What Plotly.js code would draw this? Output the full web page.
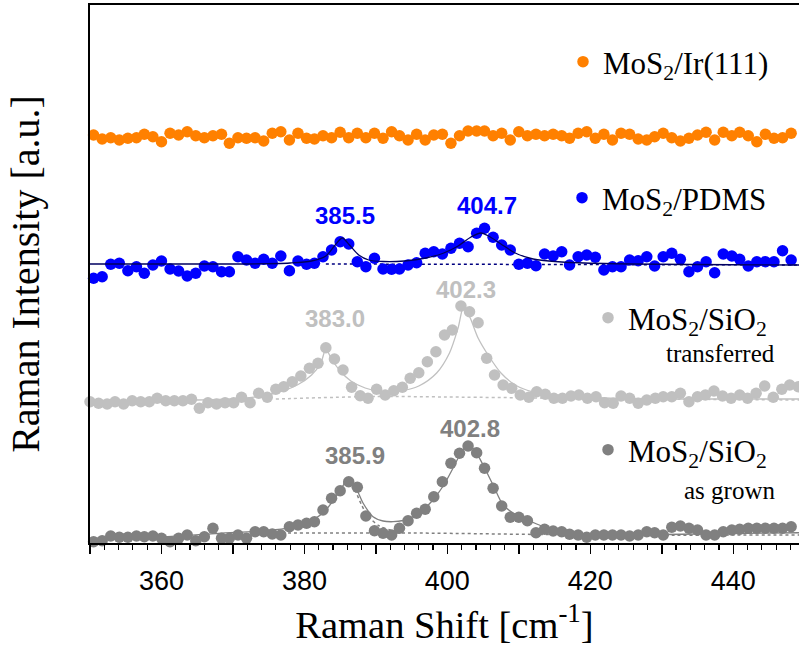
<!DOCTYPE html>
<html>
<head>
<meta charset="utf-8">
<script src="https://cdn.plot.ly/plotly-3.0.1.min.js"></script>
<style>html,body{margin:0;padding:0;background:#fff;}#chart{width:799px;height:648px;}</style>
</head>
<body>
<div id="chart"></div>
<script>
// Sampling grid (Raman shift, cm^-1)
const xA = [350.5,351.7,352.9,354.1,355.3,356.5,357.6,358.8,360.0,361.2,
  362.4,363.6,364.8,366.0,367.2,368.4,369.5,370.7,371.9,373.1,
  374.3,375.5,376.7,377.9,379.1,380.3,381.4,382.6,383.8,385.0,
  386.2,387.4,388.6,389.8,391.0,392.2,393.3,394.5,395.7,396.9,
  398.1,399.3,400.5,401.7,402.9,404.1,405.2,406.4,407.6,408.8,
  410.0,411.2,412.4,413.6,414.8,416.0,417.1,418.3,419.5,420.7,
  421.9,423.1,424.3,425.5,426.7,427.9,429.0,430.2,431.4,432.6,
  433.8,435.0,436.2,437.4,438.6,439.8,440.9,442.1,443.3,444.5,
  445.7,446.9,448.1,449.3];
const xB = [350.0,351.2,352.4,353.5,354.7,355.9,357.1,358.3,359.4,360.6,
  361.8,363.0,364.2,365.3,366.5,367.7,368.9,370.1,371.2,372.4,
  373.6,374.8,376.0,377.1,378.3,379.5,380.7,381.9,383.0,384.2,
  385.4,386.6,387.8,388.9,390.1,391.3,392.5,393.7,394.8,396.0,
  397.2,398.4,399.6,400.7,401.9,403.1,404.3,405.5,406.6,407.8,
  409.0,410.2,411.4,412.5,413.7,414.9,416.1,417.3,418.4,419.6,
  420.8,422.0,423.2,424.3,425.5,426.7,427.9,429.1,430.2,431.4,
  432.6,433.8,435.0,436.1,437.3,438.5,439.7,440.9,442.0,443.2,
  444.4,445.6,446.8,447.9,449.1];

// MoS2/Ir(111) (offset intensity, a.u.)
const irY = [408,404,405.3,403,404.7,405.3,408.7,406.3,401.3,409.7,
  408,411.3,407.3,405.3,407.3,408.7,399.7,405.3,404.7,405.3,
  402,409.7,411.3,403,409.7,404.7,404,407.3,405.3,410.7,
  405.3,409.7,405.3,409.7,404.7,411.3,407.3,403,408.7,403,
  408,408.7,399.7,407.3,412,412,412,407.3,409.7,403,
  411.3,407.3,408.7,407.3,408.7,407.3,404.7,409.7,411.3,404.7,
  408.7,403,409.7,408.7,404,403,406.3,409.7,405.3,402,
  404.7,408,410.7,403,410.7,407.3,410.7,407.3,401.3,408.7,
  404.7,405.3,409.7,407.3];

// MoS2/PDMS
const pdmsY = [264.7,266.3,278.7,279.7,272.3,276.3,269.7,278,282,274,
  272,267,269.7,277,276.3,271.3,271.3,286.3,283,279.7,
  283.7,279.7,287,272.3,282,278.7,279.7,286.3,293,301.3,
  299,281.3,276.3,284.7,274,273.7,274,278,280.3,289.7,
  291.3,289,294.7,299.7,296.3,309.7,314.7,305.7,298,293,
  278.7,279.7,277.3,289,287,291.3,278,286.3,288,285.7,
  273,276.3,276.3,283,282.3,286.3,277,286.3,289.7,283.7,
  271.3,276.3,281.3,270.3,289,287,283.7,277,281.3,281.3,
  281.3,292.3,283,283];

// MoS2/SiO2 transferred
const transY = [141.3,139.7,139,141.3,139,142.3,141.3,141.3,144.7,142.3,
  142.3,142.3,143.7,134.7,140.3,139,140.3,140.3,145.7,140.3,
  149.7,145.7,153.7,156.3,161.3,167,174.7,179.7,195.3,184,
  173,155.7,147.3,144.7,153.7,148,152.3,155.7,164.7,170.3,
  181.3,191.3,208,213,237,231.3,220.3,184.7,168,158,
  154.7,148,145.7,151.3,148.7,144.7,144.7,147,148,144.7,
  146.3,140.3,139.7,147,144.7,139.7,143,144.7,146.3,146.3,
  149.7,141.3,146.3,148,152,147,144.7,148,144.7,149.7,
  157,145.7,153.7,158,156.3];

// MoS2/SiO2 as grown
const grownY = [1.3,2.3,7,5.7,5.7,7,6.3,7,4.7,1.3,
  4.7,8,2.3,6.3,14.7,4.7,4.7,8,4.7,11.3,
  11.3,9,8,16.3,18,19.7,21.3,33,44.7,52.3,
  61.3,55.7,27,12.3,9.7,8,14.7,22.3,29.7,33.7,
  46.3,61.3,79.7,89.7,97,90.3,74.7,54.7,37,25.7,
  25.7,22.3,10.3,13.7,12,11.3,8.7,8,5.7,8,
  8,8,8,7,8,11.3,10.3,8,15.7,17,
  14.7,13,8,8,11.3,13,13.7,14.7,14.7,14.7,
  14.7,14.7,16.3,14.7];

// Lorentzian fit curves
const pdmsFitX = [350,372,378,381,383,384.3,385.3,386.3,387.6,389,391,394,397,399.5,401.5,403.3,404.7,406,407.5,409.5,412,416,422,449.5];
const pdmsFitY = [279,279,280,282,287,298,305,298,288,283,281.5,282,285,290,297,306,310,306,299,290,284,281,279.5,278];
const pdmsBaseX = [383,449.5];
const pdmsBaseY = [279,278];

const transFitX = [350,365,372,376,379,381,382.3,383,383.8,385,386.5,388.5,391,393.5,396,398.5,400.3,401.5,402.3,403.2,404.3,405.7,407.5,409.5,412,416,422,435,449.5];
const transFitY = [142,143,145,150,158,168,180,194,184,172,162,155,151,152,157,170,190,215,237,225,205,188,170,158,151,147,145,144,144];
const transBaseX = [376,390,400,420,449.5];
const transBaseY = [144,146.5,146,144.5,143];

const grownFitX = [350,360,368,374,377.4,379.5,381.2,383,384.9,386.1,387.2,388.2,389.6,391,392.4,393.8,395.2,396.1,397.2,398.2,399.5,400.8,401.9,402.8,403.8,405,406.4,407.8,409,410.2,412.5,414.8,417,419.5,425,435,449.5];
const grownFitY = [4.7,6,9.7,12,14.7,18,23,33,51.3,63.7,55,40,26.3,22,21.3,22.5,26.3,30.3,37,45,58,75,90,98,93,78,58,38,31,26.3,19,13,10,8,8,9,10.3];
const grownCompX = [383.5,385,386.1,387,388,389,390.5,392,394];
const grownCompY = [40,55,63,54,38,26,17,13,11];
const grownBaseX = [376,395,420,449.5];
const grownBaseY = [10,10,8,8];

// Peak position labels
const peakText = ['385.5','404.7','383.0','402.3','385.9','402.8'];
const peakX = [385.7,405.5,384.3,402.6,387.1,403.1];
const peakY = [328,338,225,254,88,115];
const peakColor = ['#0000ff','#0000ff','#c0c0c0','#c0c0c0','#808080','#808080'];

const serif = 'Liberation Serif, Times New Roman, serif';
const sans = 'Liberation Sans, Arial, sans-serif';

function dots(x, y, color, name, legend) {
  return {x: x, y: y, type: 'scatter', mode: 'markers', name: name, legend: legend,
    marker: {color: color, size: 11.5}, cliponaxis: false, hoverinfo: 'skip'};
}
function line(x, y, color, dash, width) {
  return {x: x, y: y, type: 'scatter', mode: 'lines', showlegend: false,
    line: {color: color, width: width, dash: dash, shape: 'spline', smoothing: 0.8}, hoverinfo: 'skip'};
}

const data = [
  line(transBaseX, transBaseY, '#c0c0c0', 'dot', 1.5),
  line(grownBaseX, grownBaseY, '#808080', 'dot', 1.5),
  line(grownCompX, grownCompY, '#808080', 'dot', 1.5),
  line(pdmsBaseX, pdmsBaseY, '#000080', 'dot', 1.5),
  dots(xA, irY, '#ff8000', 'MoS<sub>2</sub>/Ir(111)', 'legend'),
  dots(xA, pdmsY, '#0000ff', 'MoS<sub>2</sub>/PDMS', 'legend2'),
  dots(xB, transY, '#c0c0c0', 'MoS<sub>2</sub>/SiO<sub>2</sub>', 'legend3'),
  dots(xA, grownY, '#808080', 'MoS<sub>2</sub>/SiO<sub>2</sub>', 'legend4'),
  line(pdmsFitX, pdmsFitY, '#000060', 'solid', 1.3),
  line(transFitX, transFitY, '#c0c0c0', 'solid', 1.3),
  line(grownFitX, grownFitY, '#808080', 'solid', 1.3)
];

function leg(x, y) {
  return {x: x, y: y, xanchor: 'left', yanchor: 'middle', bgcolor: 'rgba(0,0,0,0)',
    borderwidth: 0, font: {family: serif, size: 31, color: '#000'}, itemwidth: 30};
}

const annotations = peakText.map((t, i) => ({
  x: peakX[i], y: peakY[i], xref: 'x', yref: 'y', text: '<b>' + t + '</b>', showarrow: false,
  font: {family: sans, size: 24, color: peakColor[i]}, xanchor: 'center', yanchor: 'middle'
}));
annotations.push({x: (777 - 90) / 709, y: (543 - 353) / 538, xref: 'paper', yref: 'paper', text: 'transferred',
  showarrow: false, xanchor: 'right', yanchor: 'middle', font: {family: serif, size: 25, color: '#000'}});
annotations.push({x: (777 - 90) / 709, y: (543 - 490) / 538, xref: 'paper', yref: 'paper', text: 'as grown',
  showarrow: false, xanchor: 'right', yanchor: 'middle', font: {family: serif, size: 25, color: '#000'}});

const layout = {
  width: 799, height: 648,
  margin: {l: 90, r: 0, t: 5, b: 105},
  paper_bgcolor: '#fff', plot_bgcolor: '#fff',
  xaxis: {
    range: [350, 449.2], showgrid: false, zeroline: false,
    showline: true, linecolor: '#000', linewidth: 2, mirror: true,
    ticks: 'outside', ticklen: 9, tickwidth: 1.5, tickcolor: '#000',
    tick0: 360, dtick: 10, ticklabelstep: 2, ticklabelstandoff: 4,
    minor: {dtick: 2, ticks: 'outside', ticklen: 5, tickwidth: 1.2, tickcolor: '#000'},
    tickfont: {family: sans, size: 27, color: '#000'},
    title: {text: 'Raman Shift [cm<sup>-1</sup>]', font: {family: serif, size: 38.5, color: '#000'}, standoff: 16}
  },
  yaxis: {
    range: [0, 538], showgrid: false, zeroline: false,
    showline: true, linecolor: '#000', linewidth: 2,
    ticks: '', showticklabels: false,
    title: {text: 'Raman Intensity [a.u.]', font: {family: serif, size: 40, color: '#000'}, standoff: 36}
  },
  legend: leg((563 - 90) / 709, (543 - 62) / 538),
  legend2: leg((562 - 90) / 709, (543 - 198) / 538),
  legend3: leg((588 - 90) / 709, (543 - 318) / 538),
  legend4: leg((588 - 90) / 709, (543 - 450) / 538),
  annotations: annotations,
  showlegend: true
};

Plotly.newPlot('chart', data, layout, {displayModeBar: false, staticPlot: true});
</script>
</body>
</html>
